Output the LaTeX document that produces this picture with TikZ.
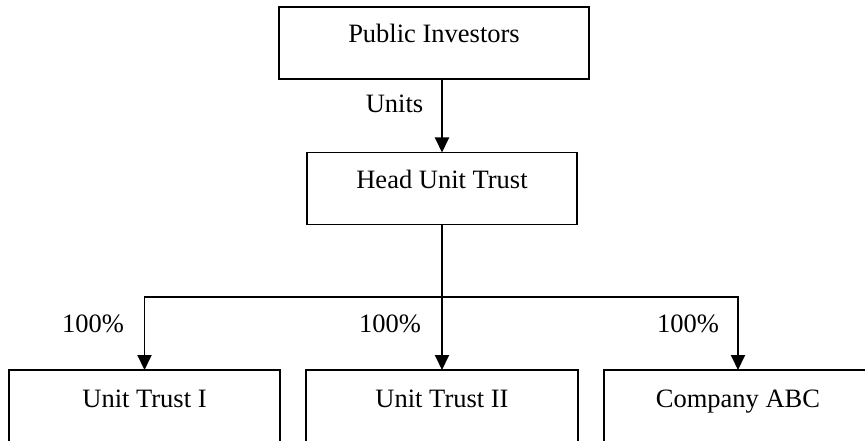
\documentclass[tikz,border=0pt]{standalone}
\usepackage{fontspec}
\setmainfont{Liberation Serif}
\usetikzlibrary{arrows.meta}
\begin{document}
\begin{tikzpicture}[x=1pt,y=-1pt,
  box/.style={draw, line width=1.9pt, rectangle, minimum height=72pt, inner sep=0pt, outer sep=0pt},
  lbl/.style={font=\fontsize{26.5}{32}\selectfont, anchor=base, inner sep=0pt},
  conn/.style={line width=1.9pt},
  arr/.style={conn, -{Triangle[length=15pt,width=14pt]}}]
\useasboundingbox (0,0) rectangle (865,441);
\clip (0,0) rectangle (865,441);
% boxes
\node[box, minimum width=310pt] (pi) at (434,43) {};
\node[box, minimum width=270pt] (hut) at (442,188.5) {};
\node[box, minimum width=271pt] (ut1) at (144.5,406) {};
\node[box, minimum width=272pt] (ut2) at (442,406) {};
\node[box, minimum width=268pt] (abc) at (738,406) {};
% box texts
\node[lbl] (tpi) at (434,43) {Public Investors};
\node[lbl] (thut) at (442,188) {Head Unit Trust};
\node[lbl] (tut1) at (144.5,407) {Unit Trust I};
\node[lbl] (tut2) at (442,407) {Unit Trust II};
\node[lbl] (tabc) at (738,407) {Company ABC};
% connectors
\coordinate (bus) at (442,297);
\draw[arr] (pi.south -| hut.north) -- (hut.north);
\draw[conn] (hut.south) -- (bus);
\draw[arr] (bus) -| (ut1.north);
\draw[arr] (bus) -| (abc.north);
\draw[arr] (bus) -- (ut2.north);
% connector labels
\node[lbl] (units) at (394.5,113) {Units};
\node[lbl] (p1) at (93,332) {100\%};
\node[lbl] (p2) at (390,332) {100\%};
\node[lbl] (p3) at (688,332) {100\%};
\end{tikzpicture}
\end{document}
